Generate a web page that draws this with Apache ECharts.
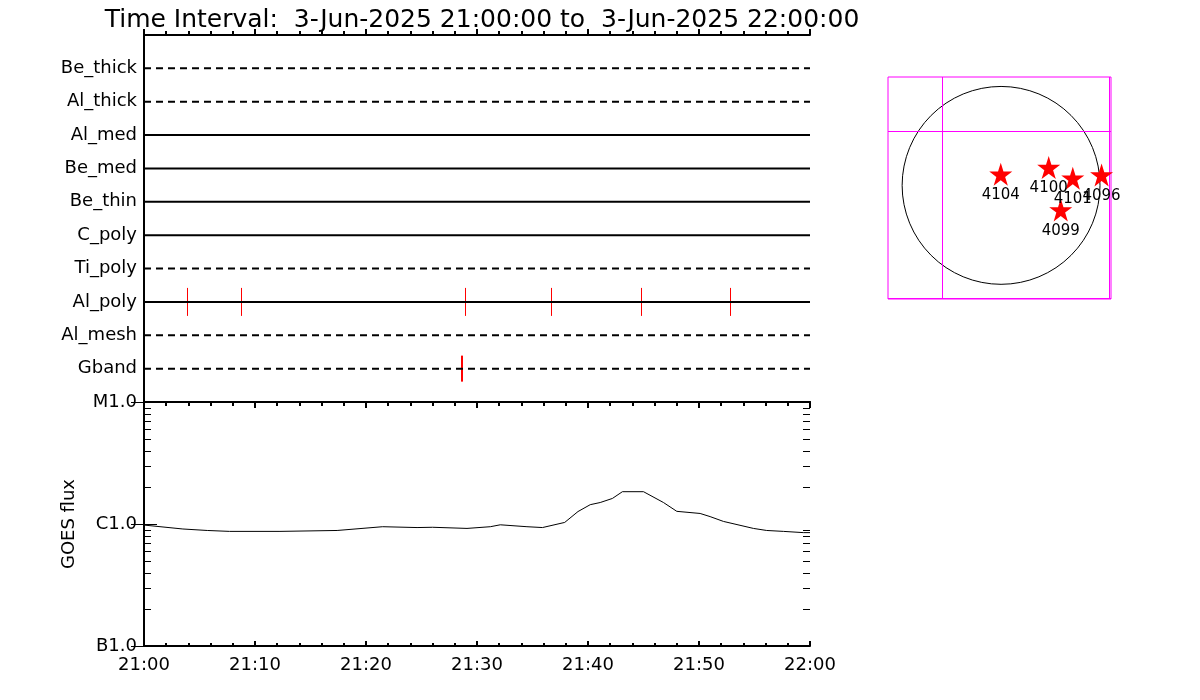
<!DOCTYPE html>
<html>
<head>
<meta charset="utf-8">
<script src="https://cdn.jsdelivr.net/npm/echarts@6.0.0/dist/echarts.min.js"></script>
<style>
  html, body { margin: 0; padding: 0; background: #fff; }
  #chart { width: 1200px; height: 700px; }
</style>
</head>
<body>
<div id="chart"></div>
<script>
// filter rows, top to bottom
const rowNames = ["Be_thick", "Al_thick", "Al_med", "Be_med", "Be_thin", "C_poly", "Ti_poly", "Al_poly", "Al_mesh", "Gband"];
// rows drawn dashed have no data
const rowHasData = [false, false, true, true, true, true, false, true, false, false];
const alPolyEvents = ["21:03:54", "21:08:45", "21:29:00", "21:36:45", "21:44:48", "21:52:48"];
const gbandEvents = ["21:28:35", "21:28:44"];

// GOES flux (W/m^2)
const goesTimes = ["21:00:00", "21:03:30", "21:05:42", "21:07:42", "21:12:15", "21:17:24", "21:21:30", "21:24:36",
  "21:26:00", "21:29:06", "21:31:12", "21:32:06", "21:34:30", "21:35:54", "21:37:54", "21:39:06", "21:40:12",
  "21:41:06", "21:42:12", "21:43:06", "21:45:00", "21:46:48", "21:48:00", "21:50:06", "21:51:00", "21:52:12",
  "21:54:54", "21:56:06", "21:57:36", "21:59:24", "22:00:00"];
const goesFlux = [9.8e-7, 9.1e-7, 8.85e-7, 8.7e-7, 8.7e-7, 8.85e-7, 9.5e-7, 9.35e-7,
  9.4e-7, 9.2e-7, 9.5e-7, 9.85e-7, 9.5e-7, 9.35e-7, 1.03e-6, 1.265e-6, 1.44e-6,
  1.5e-6, 1.62e-6, 1.84e-6, 1.84e-6, 1.5e-6, 1.27e-6, 1.22e-6, 1.15e-6, 1.05e-6,
  9.2e-7, 8.85e-7, 8.7e-7, 8.5e-7, 8.5e-7];
const classLabels = ["B1.0", "C1.0", "M1.0"];
const classFlux = [1e-7, 1e-6, 1e-5];
const minorFlux = [2e-7, 3e-7, 4e-7, 5e-7, 6e-7, 7e-7, 8e-7, 9e-7, 2e-6, 3e-6, 4e-6, 5e-6, 6e-6, 7e-6, 8e-6, 9e-6];

// active regions on the disk (arcsec)
const regionNames = ["4104", "4100", "4101", "4096", "4099"];
const regionX = [-3, 455, 685, 960, 570];
const regionY = [107, 170, 69, 100, -234];
const sunRadius = 945;
const fovX = [-565, 1030];
const fovY = [515, -1075];

const titleText = "Time Interval:  3-Jun-2025 21:00:00 to  3-Jun-2025 22:00:00";

function toMin(t) {
  const p = t.split(":").map(Number);
  return (p[0] - 21) * 60 + p[1] + (p[2] || 0) / 60;
}
function timeLabel(m) {
  const h = 21 + Math.floor(m / 60);
  const mm = m % 60;
  return h + ":" + (mm < 10 ? "0" : "") + mm;
}

const font = "DejaVu Sans";
const black = "#000";
const magenta = "#ff00ff";

const chart = echarts.init(document.getElementById("chart"));

const timeAxisBase = {
  type: "value",
  min: 0,
  max: 60,
  interval: 10,
  axisLine: { show: true, lineStyle: { color: black, width: 2 } },
  axisTick: { show: true, inside: true, length: 6, lineStyle: { color: black, width: 2 } },
  minorTick: { show: true, splitNumber: 5, length: 4, lineStyle: { color: black, width: 2 } },
  axisLabel: { show: false },
  splitLine: { show: false },
};

let series = [];

// filter rows
rowNames.forEach((name, i) => {
  series.push({
    name: name,
    type: "line",
    xAxisIndex: 0,
    yAxisIndex: 0,
    data: [[0, i + 1], [60, i + 1]],
    symbol: "none",
    silent: true,
    lineStyle: { color: black, width: 2, type: rowHasData[i] ? "solid" : [7, 5] },
  });
});

// red event ticks, snapped to whole pixels
function eventTicks(name, times, halfHeight) {
  return {
    name: name,
    type: "custom",
    xAxisIndex: 0,
    yAxisIndex: 0,
    silent: true,
    data: times.map((t) => [toMin(t), rowNames.indexOf(name) + 1]),
    renderItem: function (params, api) {
      const p = api.coord([api.value(0), api.value(1)]);
      const x = Math.floor(p[0]) + 0.5;
      return {
        type: "line",
        shape: { x1: x, y1: p[1] - halfHeight, x2: x, y2: p[1] + halfHeight },
        style: { stroke: "#ff0000", lineWidth: 1 },
      };
    },
  };
}
series.push(eventTicks("Al_poly", alPolyEvents, 14));
series.push(eventTicks("Gband", gbandEvents, 13));

// GOES curve
series.push({
  name: "GOES",
  type: "line",
  xAxisIndex: 2,
  yAxisIndex: 2,
  symbol: "none",
  lineStyle: { color: black, width: 1 },
  data: goesTimes.map((t, i) => [toMin(t), goesFlux[i]]),
});

// log minor ticks on both sides
series.push({
  name: "minor ticks",
  type: "custom",
  xAxisIndex: 2,
  yAxisIndex: 2,
  silent: true,
  clip: false,
  data: minorFlux.map((v) => [0, v]),
  renderItem: function (params, api) {
    const v = api.value(1);
    const pl = api.coord([0, v]);
    const pr = api.coord([60, v]);
    const y = Math.round(pl[1]) + 0.5;
    const st = { stroke: black, lineWidth: 1 };
    return {
      type: "group",
      children: [
        { type: "line", shape: { x1: pl[0], y1: y, x2: pl[0] + 7, y2: y }, style: st },
        { type: "line", shape: { x1: pr[0], y1: y, x2: pr[0] - 7, y2: y }, style: st },
      ],
    };
  },
});

// sun disk and field-of-view lines
series.push({
  name: "disk",
  type: "custom",
  xAxisIndex: 4,
  yAxisIndex: 4,
  silent: true,
  clip: false,
  data: [[0, 0]],
  renderItem: function (params, api) {
    const c = api.coord([0, 0]);
    const e = api.coord([sunRadius, 0]);
    const lo = api.coord([-1080, -1085]);
    const hi = api.coord([1050, 1035]);
    const st = { stroke: magenta, lineWidth: 1 };
    const children = [
      {
        type: "circle",
        shape: { cx: c[0], cy: c[1], r: e[0] - c[0] },
        style: { fill: "none", stroke: black, lineWidth: 1 },
      },
    ];
    fovX.forEach((x) => {
      const px = Math.round(api.coord([x, 0])[0]) + 0.5;
      children.push({ type: "line", shape: { x1: px, y1: hi[1], x2: px, y2: lo[1] }, style: st });
    });
    fovY.forEach((y) => {
      const py = Math.round(api.coord([0, y])[1]) + 0.5;
      children.push({ type: "line", shape: { x1: lo[0], y1: py, x2: hi[0], y2: py }, style: st });
    });
    return { type: "group", children: children };
  },
});

const starPath = "path://M50,0 L61.2,34.5 L97.6,34.5 L68.2,55.9 L79.4,90.5 L50,69.1 L20.6,90.5 L31.8,55.9 L2.4,34.5 L38.8,34.5 Z";
series.push({
  name: "regions",
  type: "scatter",
  xAxisIndex: 4,
  yAxisIndex: 4,
  symbol: starPath,
  symbolSize: 23,
  itemStyle: { color: "#ff0000", opacity: 1 },
  label: {
    show: true,
    position: "bottom",
    distance: 2,
    color: black,
    fontFamily: font,
    fontSize: 15,
    formatter: (p) => regionNames[p.dataIndex],
  },
  data: regionX.map((x, i) => [x, regionY[i]]),
});

const option = {
  animation: false,
  backgroundColor: "#fff",
  textStyle: { fontFamily: font },
  title: {
    text: titleText,
    left: 477,
    top: 3,
    textAlign: "center",
    textStyle: { fontFamily: font, fontSize: 25, fontWeight: "normal", color: black },
  },
  grid: [
    { left: 144, top: 35, width: 666, height: 367 },
    { left: 144, top: 402, width: 666, height: 244 },
    { left: 888, top: 77, width: 223, height: 222, show: true, borderColor: magenta, borderWidth: 1, backgroundColor: "transparent" },
  ],
  xAxis: [
    Object.assign({}, timeAxisBase, { gridIndex: 0, position: "bottom" }),
    Object.assign({}, timeAxisBase, { gridIndex: 0, position: "top" }),
    Object.assign({}, timeAxisBase, {
      gridIndex: 1,
      position: "bottom",
      axisTick: { show: true, inside: true, length: 5, lineStyle: { color: black, width: 2 } },
      minorTick: { show: true, splitNumber: 5, length: 3, lineStyle: { color: black, width: 2 } },
      axisLabel: { show: true, margin: 10, color: black, fontSize: 18, fontFamily: font, formatter: (v) => timeLabel(v) },
    }),
    Object.assign({}, timeAxisBase, { gridIndex: 1, position: "top" }),
    { gridIndex: 2, type: "value", min: -1080, max: 1050, show: false },
  ],
  yAxis: [
    {
      gridIndex: 0,
      type: "value",
      min: 0,
      max: 11,
      interval: 1,
      inverse: true,
      position: "left",
      axisLine: { show: true, lineStyle: { color: black, width: 2 } },
      axisTick: { show: false },
      splitLine: { show: false },
      axisLabel: {
        color: black,
        fontSize: 18,
        fontFamily: font,
        margin: 7,
        formatter: (v) => rowNames[v - 1] || "",
      },
    },
    {
      gridIndex: 0,
      type: "value",
      min: 0,
      max: 11,
      position: "right",
      axisLine: { show: true, lineStyle: { color: black, width: 2 } },
      axisTick: { show: false },
      axisLabel: { show: false },
      splitLine: { show: false },
    },
    {
      gridIndex: 1,
      type: "log",
      logBase: 10,
      min: classFlux[0],
      max: classFlux[2],
      interval: 1,
      position: "left",
      name: "GOES flux",
      nameLocation: "middle",
      nameGap: 66,
      nameTextStyle: { color: black, fontSize: 18, fontFamily: font },
      axisLine: { show: true, lineStyle: { color: black, width: 2 } },
      axisTick: { show: true, inside: true, length: 13, lineStyle: { color: black, width: 1 } },
      minorTick: { show: false },
      splitLine: { show: false },
      axisLabel: {
        color: black,
        fontSize: 18,
        fontFamily: font,
        margin: 7,
        formatter: (v) => {
          const k = classFlux.findIndex((f) => Math.abs(Math.log10(f) - Math.log10(v)) < 1e-6);
          return k >= 0 ? classLabels[k] : "";
        },
      },
    },
    {
      gridIndex: 1,
      type: "log",
      logBase: 10,
      min: classFlux[0],
      max: classFlux[2],
      interval: 1,
      position: "right",
      axisLine: { show: true, lineStyle: { color: black, width: 2 } },
      axisTick: { show: true, inside: true, length: 13, lineStyle: { color: black, width: 1 } },
      minorTick: { show: false },
      axisLabel: { show: false },
      splitLine: { show: false },
    },
    { gridIndex: 2, type: "value", min: -1085, max: 1035, show: false },
  ],
  series: series,
};

chart.setOption(option);
</script>
</body>
</html>
